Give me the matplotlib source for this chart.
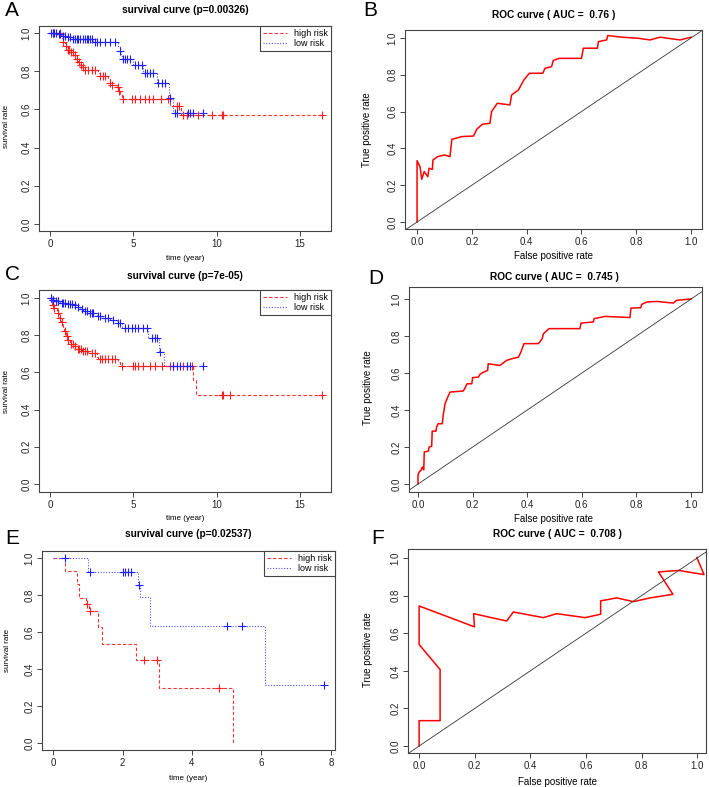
import numpy as np
import matplotlib
matplotlib.use('Agg')
import matplotlib.pyplot as plt

plt.rcParams['font.family'] = ['Liberation Sans', 'DejaVu Sans']

# ---------------- data ----------------
# Panel A (survival, training set)
a_high_t = [0.65, 0.75, 0.9, 1.0, 1.2, 1.4, 1.6, 1.7, 1.8, 1.9, 2.1, 2.9, 3.0, 3.5, 3.6, 3.7, 4.0, 4.1, 4.2, 4.3, 7.2, 7.85]
a_high_s = [0.975, 0.955, 0.93, 0.91, 0.9, 0.885, 0.865, 0.85, 0.835, 0.82, 0.805, 0.79, 0.775, 0.76, 0.74, 0.73, 0.715, 0.695, 0.675, 0.655, 0.618, 0.572]
a_high_c = [0.2, 0.6, 0.8, 0.95, 1.05, 1.15, 1.25, 1.35, 1.5, 1.6, 1.75, 1.85, 2.0, 2.1, 2.3, 2.5, 2.7, 3.0, 3.2, 3.3,
            3.6, 3.7, 4.05, 4.15, 4.4, 4.9, 5.1, 5.4, 5.7, 5.95, 6.2, 6.65, 7.1, 7.6, 7.75, 8.0, 8.2, 8.9, 9.7, 10.3, 10.4, 16.3]
a_low_t = [0.4, 0.7, 1.0, 1.3, 2.6, 4.1, 4.2, 4.25, 4.3, 5.0, 5.6, 6.4, 7.15, 7.4]
a_low_s = [0.993, 0.985, 0.978, 0.97, 0.955, 0.93, 0.905, 0.885, 0.865, 0.833, 0.793, 0.737, 0.66, 0.58]
a_low_c = [0.05, 0.15, 0.25, 0.35, 0.55, 0.6, 0.8, 0.9, 1.1, 1.2, 1.4, 1.5, 1.6, 1.7, 1.8, 2.0, 2.1, 2.2, 2.3, 2.4, 2.5,
           2.7, 2.8, 3.0, 3.3, 3.6, 3.9, 4.22, 4.4, 4.5, 4.6, 4.8, 5.1, 5.3, 5.5, 5.7, 5.8, 6.0, 6.2, 6.5, 6.7, 6.9,
           7.2, 7.5, 7.6, 8.3, 8.4, 8.6, 9.2]

# Panel C (survival, test set)
c_high_t = [0.1, 0.2, 0.4, 0.55, 0.65, 0.75, 0.85, 0.95, 1.05, 1.2, 1.4, 1.6, 1.9, 2.3, 2.8, 2.9, 4.1, 4.2, 8.6, 8.76]
c_high_s = [0.965, 0.945, 0.92, 0.89, 0.87, 0.845, 0.82, 0.795, 0.775, 0.755, 0.74, 0.727, 0.715, 0.703, 0.685, 0.672, 0.655, 0.636, 0.56, 0.478]
c_high_c = [0.05, 0.15, 0.25, 0.5, 0.6, 0.7, 0.9, 1.0, 1.1, 1.25, 1.35, 1.5, 1.65, 1.75, 1.85, 2.0, 2.1, 2.2, 2.5, 2.7,
            3.0, 3.1, 3.3, 3.5, 3.7, 3.9, 4.3, 5.0, 5.1, 5.3, 5.6, 6.0, 6.3, 6.7, 7.2, 7.4, 8.0, 8.2, 8.5, 10.3, 10.4, 10.8, 16.3]
c_low_t = [0.1, 0.3, 0.6, 1.0, 1.4, 1.6, 1.8, 2.0, 2.3, 2.8, 3.2, 3.6, 4.0, 4.3, 5.85, 6.55, 6.85]
c_low_s = [0.99, 0.982, 0.975, 0.968, 0.96, 0.95, 0.94, 0.932, 0.92, 0.905, 0.89, 0.88, 0.865, 0.837, 0.787, 0.711, 0.634]
c_low_c = [0.05, 0.15, 0.2, 0.35, 0.45, 0.5, 0.7, 0.8, 0.9, 1.1, 1.2, 1.3, 1.5, 1.7, 1.9, 2.1, 2.2, 2.4, 2.5, 2.6, 2.9,
           3.0, 3.3, 3.5, 3.8, 4.1, 4.2, 4.5, 4.7, 4.9, 5.1, 5.3, 5.6, 5.8, 6.1, 6.3, 6.4, 6.6, 7.4, 7.6, 7.8, 8.2, 8.4, 9.2]

# Panel E (survival, validation set)
e_high_t = [0.33, 0.68, 0.74, 0.96, 1.02, 1.3, 1.4, 2.4, 3.05, 5.18]
e_high_s = [0.929, 0.857, 0.786, 0.75, 0.714, 0.625, 0.536, 0.446, 0.297, 0.0]
e_high_c = [0.98, 1.06, 2.63, 2.98, 4.77]
e_low_t = [1.0, 2.45, 2.5, 2.8, 6.1]
e_low_s = [0.923, 0.855, 0.79, 0.633, 0.316]
e_low_c = [0.33, 1.07, 2.0, 2.07, 2.15, 2.23, 2.47, 5.0, 5.43, 7.8]

# ROC curves
b_fpr = [0, 0, 0.011, 0.017, 0.026, 0.039, 0.044, 0.056, 0.058, 0.075, 0.1, 0.12, 0.127, 0.163, 0.206, 0.218, 0.238,
         0.266, 0.272, 0.293, 0.339, 0.345, 0.37, 0.39, 0.41, 0.459, 0.467, 0.491, 0.497, 0.518, 0.6, 0.607, 0.658,
         0.662, 0.692, 0.696, 0.747, 0.808, 0.85, 0.887, 0.96, 1.0]
b_tpr = [0, 0.333, 0.30, 0.232, 0.274, 0.246, 0.292, 0.286, 0.337, 0.355, 0.364, 0.355, 0.449, 0.464, 0.467, 0.504,
         0.531, 0.536, 0.6, 0.645, 0.636, 0.69, 0.717, 0.772, 0.808, 0.808, 0.835, 0.844, 0.877, 0.889, 0.889, 0.944,
         0.944, 0.98, 0.989, 1.013, 1.004, 0.998, 0.989, 1.004, 0.989, 1.004]
b_auc = "0.76"

d_fpr = [0, 0, 0.004, 0.011, 0.016, 0.021, 0.023, 0.038, 0.041, 0.05, 0.052, 0.066, 0.068, 0.074, 0.089, 0.093, 0.099,
         0.109, 0.117, 0.166, 0.18, 0.197, 0.2, 0.221, 0.227, 0.239, 0.255, 0.257, 0.3, 0.324, 0.343, 0.368, 0.377,
         0.388, 0.441, 0.455, 0.459, 0.48, 0.593, 0.597, 0.642, 0.645, 0.685, 0.776, 0.78, 0.816, 0.819, 0.838, 0.874,
         0.935, 0.947, 1.0]
d_tpr = [0, 0.047, 0.065, 0.074, 0.092, 0.077, 0.173, 0.178, 0.2, 0.204, 0.286, 0.286, 0.308, 0.326, 0.326, 0.38,
         0.434, 0.47, 0.497, 0.503, 0.542, 0.542, 0.575, 0.578, 0.593, 0.604, 0.614, 0.65, 0.641, 0.668, 0.677, 0.686,
         0.714, 0.759, 0.759, 0.786, 0.812, 0.84, 0.84, 0.87, 0.876, 0.894, 0.906, 0.9, 0.951, 0.953, 0.971, 0.984,
         0.987, 0.978, 0.993, 1.0]
d_auc = "0.745"

f_fpr = [0, 0, 0.0755, 0.0755, 0, 0, 0.199, 0.196, 0.315, 0.339, 0.447, 0.495, 0.597, 0.653, 0.653, 0.711, 0.771,
         0.831, 0.913, 0.861, 0.933, 1.025, 0.999]
f_tpr = [0, 0.135, 0.135, 0.407, 0.54, 0.745, 0.634, 0.704, 0.665, 0.713, 0.683, 0.704, 0.683, 0.701, 0.772, 0.788,
         0.768, 0.788, 0.807, 0.926, 0.934, 0.912, 1.002]
f_auc = "0.708"

a_p = "0.00326"
c_p = "7e-05"
e_p = "0.02537"
group_labels = ["high risk", "low risk"]

# ---------------- layout helpers ----------------
W, H = 709, 787
fig = plt.figure(figsize=(W / 100, H / 100), dpi=100)
fig.patch.set_facecolor('white')


def fx(x):
    return x / W


def fy(y):
    return 1 - y / H


def px_axes(l, t, r, b):
    return fig.add_axes([l / W, 1 - b / H, (r - l) / W, (b - t) / H])


def style_axes(ax):
    for sp in ax.spines.values():
        sp.set_color('#444444')
        sp.set_linewidth(0.8)
    ax.tick_params(direction='out', length=3.5, width=0.7, colors='#444444', labelsize=7,
                   labelcolor='#222222', pad=2)
    ax.set_yticks([0.0, 0.2, 0.4, 0.6, 0.8, 1.0])
    ax.set_yticklabels(['0.0', '0.2', '0.4', '0.6', '0.8', '1.0'])
    for lab in ax.get_yticklabels():
        lab.set_rotation(90)
        lab.set_va('center')
        lab.set_ha('right')


def km_xy(step_t, step_s, t_end):
    xs = [0.0]
    ys = [1.0]
    for t, s in zip(step_t, step_s):
        xs += [t, t]
        ys += [ys[-1], s]
    xs.append(t_end)
    ys.append(ys[-1])
    return xs, ys


def surv_at(step_t, step_s, t):
    s = 1.0
    for tt, ss in zip(step_t, step_s):
        if tt <= t:
            s = ss
    return s


def surv_panel(ax, ht, hs, hc, lt, ls, lc, xticks):
    h_end = max(max(hc), ht[-1])
    l_end = max(max(lc), lt[-1])
    hx, hy = km_xy(ht, hs, h_end)
    lx, ly = km_xy(lt, ls, l_end)
    ax.plot(hx, hy, color='#ff3030', lw=0.8, ls=(0, (3, 2)), label=group_labels[0])
    ax.plot(lx, ly, color='#5050ff', lw=0.8, ls=(0, (1, 1.5)), label=group_labels[1])
    ax.plot(hc, [surv_at(ht, hs, c) for c in hc], ls='none', marker='+', ms=5.5, mew=0.8, color='#ff2020')
    ax.plot(lc, [surv_at(lt, ls, c) for c in lc], ls='none', marker='+', ms=5.5, mew=0.8, color='#2020ff')
    ax.set_xticks(xticks)
    ax.set_xticklabels([str(v) for v in xticks])
    style_axes(ax)
    leg = ax.legend(loc='upper right', borderaxespad=0, fancybox=False, framealpha=1, edgecolor='#444444',
                    fontsize=6.5, handlelength=2.6, handletextpad=0.8, borderpad=0.35, labelspacing=0.1)
    leg.get_frame().set_linewidth(0.8)


def roc_panel(ax, fpr, tpr):
    ax.plot(fpr, tpr, color='#ff0000', lw=1.1)
    ax.axline((0, 0), (1, 1), color='#333333', lw=0.6)
    ax.set_xticks([0.0, 0.2, 0.4, 0.6, 0.8, 1.0])
    ax.set_xticklabels(['0.0', '0.2', '0.4', '0.6', '0.8', '1.0'])
    style_axes(ax)


title_fs = 7.3
lab_fs = 5.8
roc_lab_fs = 7.0
letter_fs = 15

# ---------------- Panel A ----------------
axA = px_axes(39, 26, 331, 231)
surv_panel(axA, a_high_t, a_high_s, a_high_c, a_low_t, a_low_s, a_low_c, [0, 5, 10, 15])
axA.set_xlim(-0.66, 16.86)
axA.set_ylim(-0.037, 1.037)
fig.text(fx(185), fy(10), f"survival curve (p={a_p})", ha='center', va='center', fontsize=title_fs, fontweight='bold')
fig.text(fx(185), fy(258), "time (year)", ha='center', va='center', fontsize=lab_fs)
fig.text(fx(7), fy(126), "survival rate", ha='center', va='center', rotation=90, fontsize=lab_fs)
fig.text(fx(12), fy(10), "A", ha='center', va='center', fontsize=letter_fs)

# ---------------- Panel B ----------------
axB = px_axes(405, 30, 702, 229)
roc_panel(axB, b_fpr, b_tpr)
axB.set_xlim(-0.044, 1.04)
axB.set_ylim(-0.038, 1.043)
fig.text(fx(554), fy(15), f"ROC curve ( AUC =  {b_auc} )", ha='center', va='center', fontsize=title_fs, fontweight='bold')
fig.text(fx(554), fy(256), "False positive rate", ha='center', va='center', fontsize=roc_lab_fs)
fig.text(fx(367), fy(130), "True positive rate", ha='center', va='center', rotation=90, fontsize=roc_lab_fs)
fig.text(fx(370), fy(11), "B", ha='center', va='center', fontsize=letter_fs)

# ---------------- Panel C ----------------
axC = px_axes(39, 290, 331, 492)
surv_panel(axC, c_high_t, c_high_s, c_high_c, c_low_t, c_low_s, c_low_c, [0, 5, 10, 15])
axC.set_xlim(-0.66, 16.86)
axC.set_ylim(-0.043, 1.043)
fig.text(fx(185), fy(276), f"survival curve (p={c_p})", ha='center', va='center', fontsize=title_fs, fontweight='bold')
fig.text(fx(185), fy(519), "time (year)", ha='center', va='center', fontsize=lab_fs)
fig.text(fx(7), fy(391), "survival rate", ha='center', va='center', rotation=90, fontsize=lab_fs)
fig.text(fx(13), fy(274), "C", ha='center', va='center', fontsize=letter_fs)

# ---------------- Panel D ----------------
axD = px_axes(409, 287, 702, 492)
roc_panel(axD, d_fpr, d_tpr)
axD.set_xlim(-0.033, 1.04)
axD.set_ylim(-0.043, 1.065)
fig.text(fx(554), fy(277), f"ROC curve ( AUC =  {d_auc} )", ha='center', va='center', fontsize=title_fs, fontweight='bold')
fig.text(fx(554), fy(519), "False positive rate", ha='center', va='center', fontsize=roc_lab_fs)
fig.text(fx(368), fy(388), "True positive rate", ha='center', va='center', rotation=90, fontsize=roc_lab_fs)
fig.text(fx(376), fy(278), "D", ha='center', va='center', fontsize=letter_fs)

# ---------------- Panel E ----------------
axE = px_axes(42, 551, 335, 750)
surv_panel(axE, e_high_t, e_high_s, e_high_c, e_low_t, e_low_s, e_low_c, [0, 2, 4, 6, 8])
axE.set_xlim(-0.32, 8.12)
axE.set_ylim(-0.038, 1.038)
fig.text(fx(188), fy(534), f"survival curve (p={e_p})", ha='center', va='center', fontsize=title_fs, fontweight='bold')
fig.text(fx(188), fy(778), "time (year)", ha='center', va='center', fontsize=lab_fs)
fig.text(fx(8), fy(650), "survival rate", ha='center', va='center', rotation=90, fontsize=lab_fs)
fig.text(fx(12), fy(538), "E", ha='center', va='center', fontsize=letter_fs)

# ---------------- Panel F ----------------
axF = px_axes(408, 549, 706, 753)
roc_panel(axF, f_fpr, f_tpr)
axF.set_xlim(-0.04, 1.032)
axF.set_ylim(-0.037, 1.048)
fig.text(fx(557), fy(534), f"ROC curve ( AUC =  {f_auc} )", ha='center', va='center', fontsize=title_fs, fontweight='bold')
fig.text(fx(557), fy(782), "False positive rate", ha='center', va='center', fontsize=roc_lab_fs)
fig.text(fx(368), fy(650), "True positive rate", ha='center', va='center', rotation=90, fontsize=roc_lab_fs)
fig.text(fx(378), fy(538), "F", ha='center', va='center', fontsize=letter_fs)

fig.savefig('out.png', dpi=100, facecolor='white')
